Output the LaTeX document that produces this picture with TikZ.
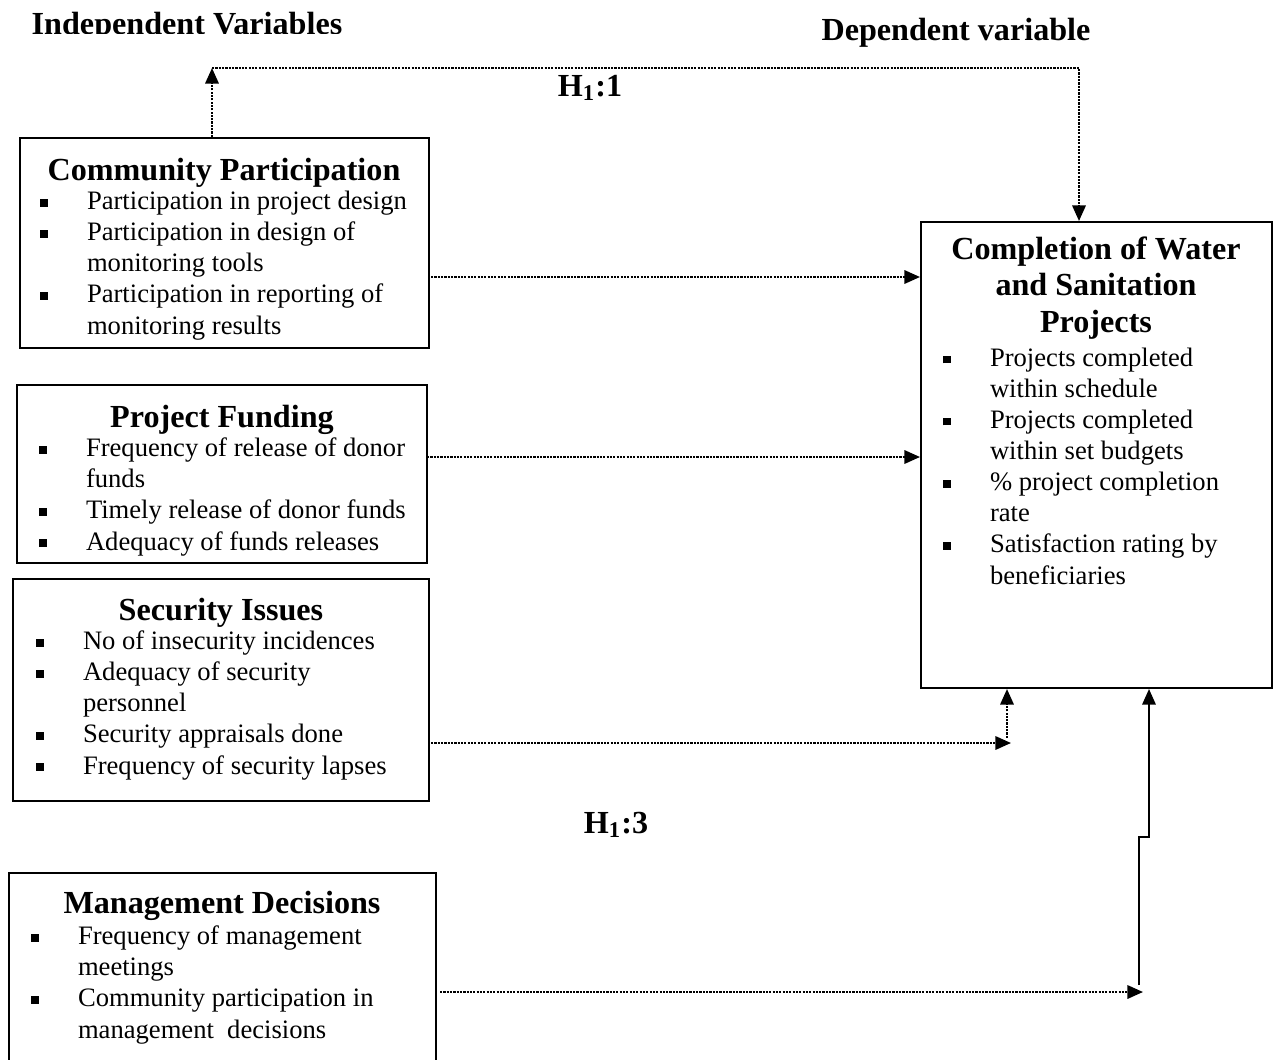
\documentclass[tikz,border=0pt]{standalone}
\usepackage{fontspec}
\setmainfont{Liberation Serif}
\usetikzlibrary{arrows.meta,fit}

\newcommand{\blt}{\makebox[21pt][l]{\raisebox{1.5pt}{\rule{3.3pt}{3.3pt}}}}
\newcommand{\cnt}{\hspace*{21pt}}

\tikzset{
  box/.style={draw, line width=0.9pt, inner sep=0pt},
  head/.style={font=\fontsize{14.5}{16.4}\selectfont\bfseries, inner sep=0pt, anchor=base, align=center},
  items/.style={font=\fontsize{12}{14}\selectfont, inner sep=0pt, anchor=base west, align=left},
  dotline/.style={line width=1pt, dash pattern=on 1pt off 0.5pt, -{Triangle[length=7pt,width=6pt]}},
  solidline/.style={line width=0.9pt, -{Triangle[length=7pt,width=6pt]}}
}

\begin{document}
\begin{tikzpicture}[x=0.451pt, y=-0.451pt]
      \useasboundingbox (0,0) rectangle (1277,1059);
      \clip (0,0) rectangle (1277,1059);

      \coordinate (cpA) at (20,138);
      \coordinate (cpB) at (429,348);
      \coordinate (pfA) at (17,385);
      \coordinate (pfB) at (427,563);
      \coordinate (siA) at (13,579);
      \coordinate (siB) at (429,801);
      \coordinate (mdA) at (9,873);
      \coordinate (mdB) at (436,1080);
      \coordinate (cwA) at (921,222);
      \coordinate (cwB) at (1272,688);

      % TITRES
      \begin{scope}
        \clip (0,0) rectangle (1277,33);
        \node[head] (indep) at (187,34) {Independent Variables};
      \end{scope}
      \node[head] (dep) at (956,40) {Dependent variable};
      \node[head] (h11) at (590,96) {H\textsubscript{1}:1};
      \node[head] (h13) at (616,833) {H\textsubscript{1}:3};

      % BOITES
      \node[box, fit=(cpA)(cpB)] (cp) {};
      \node[box, fit=(pfA)(pfB)] (pf) {};
      \node[box, fit=(siA)(siB)] (si) {};
      \node[box, fit=(mdA)(mdB)] (md) {};
      \node[box, fit=(cwA)(cwB)] (cw) {};

      % TEXTES (base = derniere ligne)
      \node[head] (cpT) at (224,180) {Community Participation};
      \node[items] (cpL) at (40,334) {\blt Participation in project design\\
        \blt Participation in design of\\ \cnt monitoring tools\\
        \blt Participation in reporting of\\ \cnt monitoring results};

      \node[head] (pfT) at (222,427) {Project Funding};
      \node[items] (pfL) at (39,550) {\blt Frequency of release of donor\\ \cnt funds\\
        \blt Timely release of donor funds\\
        \blt Adequacy of funds releases};

      \node[head] (siT) at (221,620) {Security Issues};
      \node[items] (siL) at (36,774) {\blt No of insecurity incidences\\
        \blt Adequacy of security\\ \cnt personnel\\
        \blt Security appraisals done\\
        \blt Frequency of security lapses};

      \node[head] (mdT) at (222,913) {Management Decisions};
      \node[items] (mdL) at (31,1038) {\blt Frequency of management\\ \cnt meetings\\
        \blt Community participation in\\ \cnt management\ \ decisions};

      \node[head] (cwT) at (1096,332) {Completion of Water\\ and Sanitation\\ Projects};
      \node[items] (cwL) at (943,584) {\blt Projects completed\\ \cnt within schedule\\
        \blt Projects completed\\ \cnt within set budgets\\
        \blt \% project completion\\ \cnt rate\\
        \blt Satisfaction rating by\\ \cnt beneficiaries};

      % FLECHES
      \coordinate (c1) at (212,68);
      \coordinate (c2) at (1079,68);
      \coordinate (a1) at (431,277);
      \coordinate (a2) at (427,457);
      \coordinate (a3) at (431,743);
      \coordinate (a4) at (1011,743);
      \coordinate (a5) at (1007,738);
      \coordinate (a6) at (440,992);
      \coordinate (a7) at (1143,992);
      \coordinate (b1) at (1139,985);
      \coordinate (b2) at (1139,837);
      \coordinate (b3) at (1149,837);

      \draw[dotline] (cp.north -| c1) -- (c1);
      \draw[dotline] (c1) -- (c2) -- (c2 |- cw.north);
      \draw[dotline] (a1) -- (a1 -| cw.west);
      \draw[dotline] (a2) -- (a2 -| cw.west);
      \draw[dotline] (a3) -- (a4);
      \draw[dotline] (a5) -- (a5 |- cw.south);
      \draw[dotline] (a6) -- (a7);
      \draw[solidline] (b1) -- (b2) -- (b3) -- (b3 |- cw.south);
\end{tikzpicture}
\end{document}
